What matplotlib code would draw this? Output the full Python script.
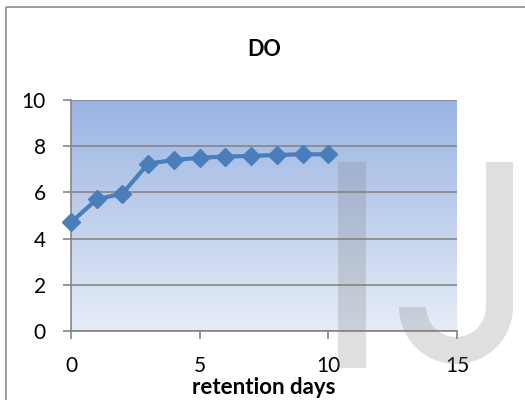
import matplotlib.pyplot as plt
import numpy as np
from matplotlib.colors import LinearSegmentedColormap
from matplotlib.patches import Rectangle, Wedge

plt.rcParams['font.family'] = ['Lato', 'DejaVu Sans']

days = [0, 1, 2, 3, 4, 5, 6, 7, 8, 9, 10]
do_values = [4.7, 5.7, 5.95, 7.25, 7.4, 7.5, 7.55, 7.58, 7.62, 7.65, 7.65]

fig = plt.figure(figsize=(5.25, 4), dpi=100)
ax = fig.add_axes([71/525, 1 - 331/400, 386/525, 231/400])

# gradient fill behind the plot area
cmap = LinearSegmentedColormap.from_list('bg', ['#e6ecf7', '#9ab4e2'])
grad = np.linspace(0, 1, 256).reshape(-1, 1)
ax.imshow(grad, cmap=cmap, origin='lower', aspect='auto',
          extent=[0, 15, 0, 10], zorder=0)

ax.plot(days, do_values, color='#4a7ebb', lw=3, marker='D', markersize=9,
        zorder=3, clip_on=False)

ax.set_xlim(0, 15)
ax.set_ylim(0, 10)
ax.set_xticks([0, 5, 10, 15])
ax.set_yticks([0, 2, 4, 6, 8, 10])
ax.yaxis.grid(True, color='#868686', lw=1.2)
ax.set_axisbelow(False)
for s in ['top', 'right']:
    ax.spines[s].set_visible(False)
for s in ['left', 'bottom']:
    ax.spines[s].set_color('#868686')
    ax.spines[s].set_linewidth(1.2)
ax.tick_params(axis='both', colors='#868686', labelcolor='black',
               labelsize=15, length=6, width=1.2)
ax.tick_params(axis='y', pad=12)
ax.tick_params(axis='x', pad=12)

ax.set_title('DO', fontsize=15.5, fontweight='bold', pad=32)
ax.set_xlabel('retention days', fontsize=16, fontweight='bold', labelpad=1)

# overlay in pixel coordinates: frame and watermark
ov = fig.add_axes([0, 0, 1, 1], zorder=10)
ov.set_xlim(0, 525)
ov.set_ylim(400, 0)
ov.axis('off')
ov.patch.set_alpha(0)
ov.add_patch(Rectangle((6, 7), 530, 400, fill=False, edgecolor='#8c8c8c', lw=1.2))
ov.add_patch(Rectangle((338, 162), 28, 206, color='#808080', alpha=0.25, lw=0))
ov.add_patch(Rectangle((486, 162), 27, 145, color='#808080', alpha=0.25, lw=0))
ov.add_patch(Wedge((456, 307), 57, 0, 180, width=27, color='#808080', alpha=0.25, lw=0))

fig.savefig('out.png', dpi=100)
